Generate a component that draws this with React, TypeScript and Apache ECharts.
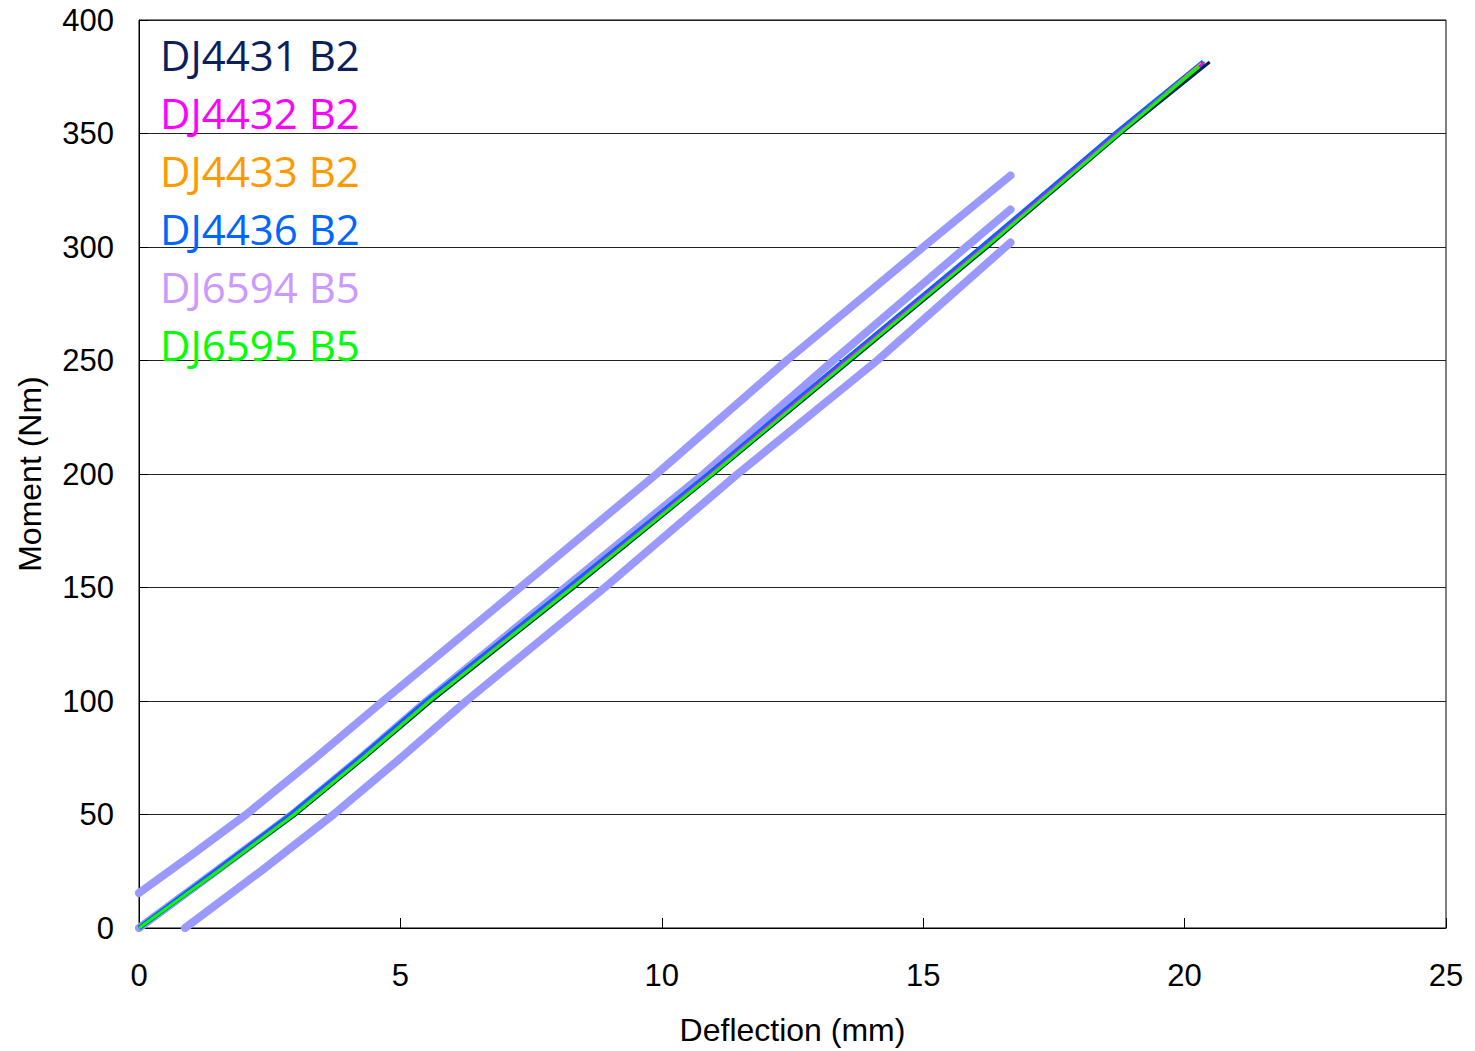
import React, { useEffect, useRef } from "react";
import * as echarts from "echarts";

const legendNames = ["DJ4431 B2", "DJ4432 B2", "DJ4433 B2", "DJ4436 B2", "DJ6594 B5", "DJ6595 B5"];
const legendColors = ["#0B1F5C", "#FF00FF", "#FF9900", "#0066FF", "#CC99FF", "#00FF00"];

// Deflection (mm), Moment (Nm)
const dj4431: number[][] = [[0, 0], [1.52, 25], [3.0, 50], [4.32, 75], [5.6, 100], [8.33, 150], [11.0, 200], [13.62, 250], [16.24, 300], [18.78, 350], [20.48, 381.5]];
const dj4432: number[][] = [[0, 0], [1.48, 25], [2.94, 50], [4.26, 75], [5.53, 100], [8.25, 150], [10.92, 200], [13.52, 250], [16.15, 300], [18.7, 350], [20.38, 381.5]];
const dj4433: number[][] = [[0, 0], [1.49, 25], [2.95, 50], [4.27, 75], [5.54, 100], [8.27, 150], [10.95, 200], [13.55, 250], [16.17, 300], [18.72, 350], [20.32, 381]];
const dj4436: number[][] = [[0, 0], [1.46, 25], [2.91, 50], [4.23, 75], [5.5, 100], [8.22, 150], [10.9, 200], [13.5, 250], [16.12, 300], [18.68, 350], [20.36, 381.5]];
const dj6594: number[][] = [[0, 0], [1.5, 25], [2.96, 50], [4.28, 75], [5.55, 100], [8.28, 150], [10.96, 200], [13.56, 250], [16.18, 300], [18.73, 350], [20.3, 380]];
const dj6595: number[][] = [[0, 0], [1.51, 25], [2.97, 50], [4.29, 75], [5.56, 100], [8.29, 150], [10.97, 200], [13.58, 250], [16.2, 300], [18.75, 350], [20.28, 379.5]];

const bandUpper: number[][] = [[0, 15.4], [1.0, 32], [2.05, 50], [3.38, 75], [4.67, 100], [7.29, 150], [9.9, 200], [12.39, 250], [15.0, 300], [16.67, 331.5]];
const bandMiddle: number[][] = [[0, 0], [1.47, 25], [2.93, 50], [4.24, 75], [5.5, 100], [8.15, 150], [10.8, 200], [13.28, 250], [15.82, 300], [16.67, 316.5]];
const bandLower: number[][] = [[0.88, 0], [2.33, 25], [3.72, 50], [5.01, 75], [6.26, 100], [8.91, 150], [11.45, 200], [14.12, 250], [16.67, 302]];

const xMin = 0, xMax = 25, xStep = 5;
const yMin = 0, yMax = 400, yStep = 50;

export default function App() {
  const ref = useRef<HTMLDivElement>(null);
  useEffect(() => {
    if (!ref.current) return;
    const chart = echarts.init(ref.current, undefined, { renderer: "svg" });
    const band = (name: string, data: number[][]) => ({
      name,
      type: "line",
      data,
      showSymbol: false,
      symbol: "none",
      lineStyle: { color: "#9999FF", width: 8, cap: "round", join: "round" },
      z: 1,
    });
    const main = (name: string, data: number[][], color: string, width: number, z: number) => ({
      name,
      type: "line",
      data,
      showSymbol: false,
      symbol: "none",
      itemStyle: { color },
      lineStyle: { color, width, join: "round" },
      z,
    });
    chart.setOption({
      animation: false,
      backgroundColor: "#ffffff",
      grid: {
        left: 139, right: 29, top: 20, bottom: 123,
        outerBoundsMode: "none",
        containLabel: false,
        show: true, borderColor: "#000", borderWidth: 1, backgroundColor: "transparent",
      },
      legend: {
        orient: "vertical",
        left: 150,
        top: 20,
        icon: "none",
        itemWidth: 0,
        itemHeight: 10,
        itemGap: 0,
        selectedMode: false,
        data: legendNames.map((n, i) => ({ name: n, textStyle: { color: legendColors[i] } })),
        textStyle: { fontFamily: "Open Sans", fontSize: 42, lineHeight: 58 },
      },
      xAxis: {
        type: "value",
        min: xMin,
        max: xMax,
        interval: xStep,
        name: "Deflection (mm)",
        nameLocation: "middle",
        nameGap: 86,
        nameTextStyle: { fontFamily: "Liberation Sans", fontSize: 32, color: "#000" },
        axisLine: { lineStyle: { color: "#000", width: 1 } },
        axisTick: { inside: true, length: 10, lineStyle: { color: "#000" } },
        axisLabel: { fontFamily: "Liberation Sans", fontSize: 31, color: "#000", margin: 32 },
        splitLine: { show: false },
      },
      yAxis: {
        type: "value",
        min: yMin,
        max: yMax,
        interval: yStep,
        name: "Moment (Nm)",
        nameLocation: "middle",
        nameGap: 93,
        nameRotate: 90,
        nameTextStyle: { fontFamily: "Liberation Sans", fontSize: 32, color: "#000" },
        axisLine: { show: true, lineStyle: { color: "#000", width: 1 } },
        axisTick: { show: true, inside: true, length: 9, lineStyle: { color: "#000" } },
        axisLabel: { fontFamily: "Liberation Sans", fontSize: 31, color: "#000", margin: 25 },
        splitLine: { show: true, lineStyle: { color: "#222", width: 1 } },
      },
      series: [
        band("Upper", bandUpper),
        band("Middle", bandMiddle),
        band("Lower", bandLower),
        main("DJ6594 B5", dj6594, "#CC99FF", 2, 2),
        main("DJ4436 B2", dj4436, "#0066FF", 5, 3),
        main("DJ4431 B2", dj4431, "#0B1F5C", 3, 4),
        main("DJ4433 B2", dj4433, "#FF9900", 2, 5),
        main("DJ4432 B2", dj4432, "#FF00FF", 2, 6),
        main("DJ6595 B5", dj6595, "#00FF00", 3, 7),
      ],
    });
    return () => chart.dispose();
  }, []);
  return <div ref={ref} style={{ width: 1475, height: 1051, position: "absolute", left: 0, top: 0 }} />;
}
